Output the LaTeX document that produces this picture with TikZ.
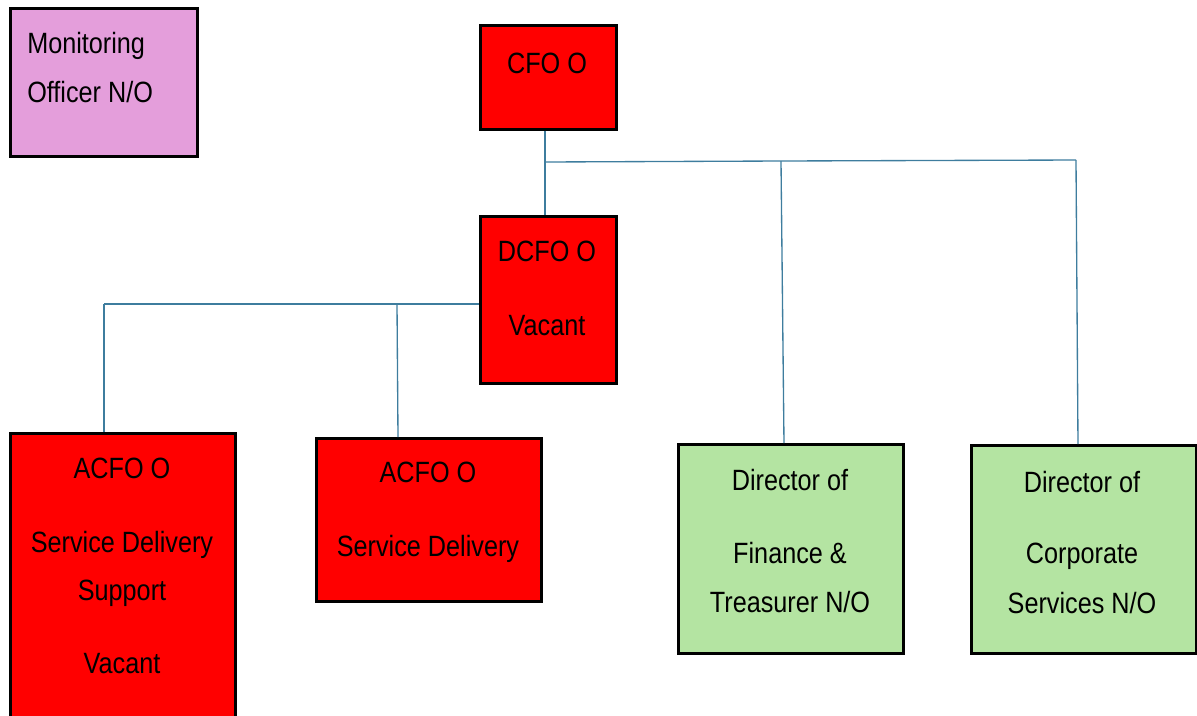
\documentclass[tikz,border=0pt]{standalone}
\usepackage{fontspec}
\setmainfont{Liberation Sans}[FakeStretch=0.86]
\definecolor{boxred}{RGB}{255,0,0}
\definecolor{boxgreen}{RGB}{180,228,162}
\definecolor{boxpink}{RGB}{228,158,219}
\definecolor{linkblue}{RGB}{62,125,158}
\tikzset{
  orgbox/.style={draw=black, line width=2pt, inner sep=0pt, anchor=north west},
  redbox/.style={orgbox, fill=boxred},
  greenbox/.style={orgbox, fill=boxgreen},
  pinkbox/.style={orgbox, fill=boxpink},
  lbl/.style={anchor=base, inner sep=0pt, font=\fontsize{22}{26}\selectfont},
  link/.style={draw=linkblue, line width=1pt},
}
\begin{document}
\begin{tikzpicture}[x=0.75pt,y=-0.75pt]
\useasboundingbox (0,0) rectangle (1197,715);
% boxes
\node[pinkbox, minimum width=187*0.75pt, minimum height=148*0.75pt] (mo) at (9,7) {};
\node[redbox, minimum width=136*0.75pt, minimum height=104*0.75pt] (cfo) at (479,24) {};
\node[redbox, minimum width=136*0.75pt, minimum height=167*0.75pt] (dcfo) at (479,215) {};
\node[redbox, minimum width=225*0.75pt, minimum height=300*0.75pt] (acfo1) at (9,432) {};
\node[redbox, minimum width=225*0.75pt, minimum height=163*0.75pt] (acfo2) at (315,437) {};
\node[greenbox, minimum width=225*0.75pt, minimum height=209*0.75pt] (dfin) at (677,443) {};
\node[greenbox, minimum width=225*0.75pt, minimum height=208*0.75pt] (dcorp) at (970,444) {};
% labels
\node[lbl, anchor=base west] (mo1) at (27,53) {Monitoring};
\node[lbl, anchor=base west] (mo2) at (27,102) {Officer N/O};
\node[lbl] (cfo1) at (547,73) {CFO O};
\node[lbl] (dcfo1) at (547,261) {DCFO O};
\node[lbl] (dcfo2) at (547,335) {Vacant};
\node[lbl] (a11) at (122,478) {ACFO O};
\node[lbl] (a12) at (122,552) {Service Delivery};
\node[lbl] (a13) at (122,600) {Support};
\node[lbl] (a14) at (122,673) {Vacant};
\node[lbl] (a21) at (428,482) {ACFO O};
\node[lbl] (a22) at (428,556) {Service Delivery};
\node[lbl] (f1) at (790,490) {Director of};
\node[lbl] (f2) at (790,563) {Finance \&};
\node[lbl] (f3) at (790,612) {Treasurer N/O};
\node[lbl] (c1) at (1082,492) {Director of};
\node[lbl] (c2) at (1082,563) {Corporate};
\node[lbl] (c3) at (1082,613) {Services N/O};
% junctions
\coordinate (j0) at (545,162);
\coordinate (j1) at (781,161);
\coordinate (j2) at (1076,160);
\coordinate (k0) at (104,304);
\coordinate (k1) at (397,304);
% connectors
\draw[link] (cfo.south -| j0) -- (dcfo.north -| j0);
\draw[link] (j0) -- (j1) -- (j2);
\draw[link] (j1) -- (784,443 |- dfin.north);
\draw[link] (j2) -- (1078,444 |- dcorp.north);
\draw[link] (k0) -- (dcfo.west |- k1);
\draw[link] (k0) -- (k0 |- acfo1.north);
\draw[link] (k1) -- (398,437 |- acfo2.north);
\end{tikzpicture}
\end{document}
